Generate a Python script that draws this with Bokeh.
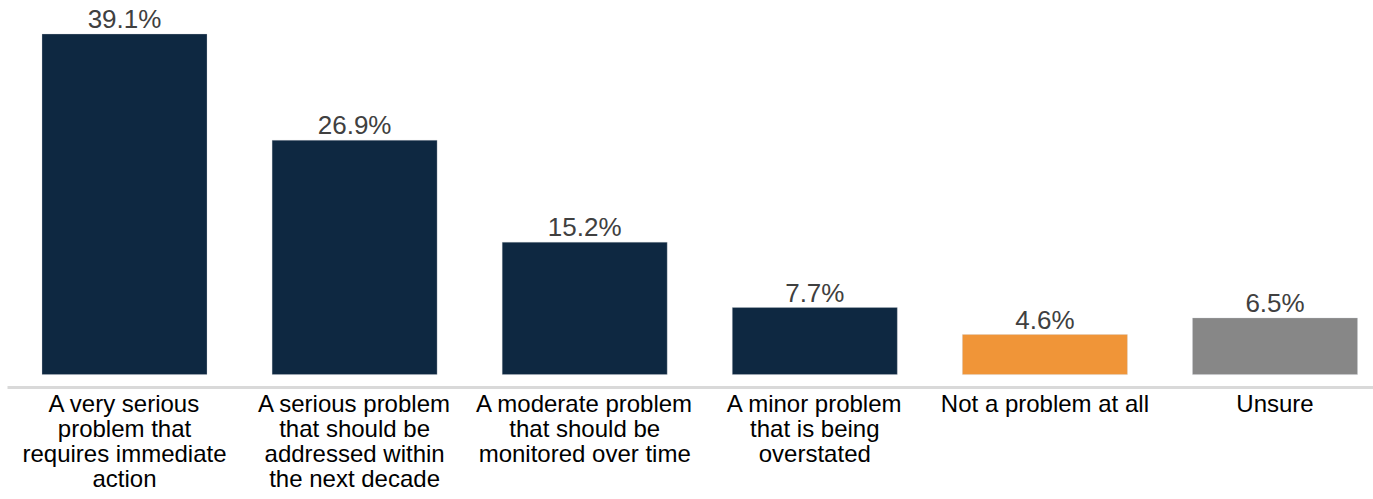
from bokeh.plotting import figure
from bokeh.models import Range1d, FixedTicker, ColumnDataSource
from bokeh.core.properties import value
from bokeh.embed import file_html
from bokeh.resources import INLINE

categories = [
    "A very serious\nproblem that\nrequires immediate\naction",
    "A serious problem\nthat should be\naddressed within\nthe next decade",
    "A moderate problem\nthat should be\nmonitored over time",
    "A minor problem\nthat is being\noverstated",
    "Not a problem at all",
    "Unsure",
]
values = [39.1, 26.9, 15.2, 7.7, 4.6, 6.5]
labels = ["39.1%", "26.9%", "15.2%", "7.7%", "4.6%", "6.5%"]
colors = ["#0E2841", "#0E2841", "#0E2841", "#0E2841", "#F09538", "#878787"]

x = list(range(len(categories)))
src = ColumnDataSource(dict(x=x, top=values, label=labels, color=colors))

p = figure(width=1373, height=499,
           x_range=Range1d(-0.5085, 5.428), y_range=Range1d(-1.48, 42.95),
           output_backend="svg", toolbar_location=None,
           y_axis_location=None, min_border=0, min_border_left=7)
p.outline_line_color = None
p.xgrid.visible = False
p.ygrid.visible = False
p.background_fill_color = "white"
p.border_fill_color = "white"

p.vbar(x="x", top="top", bottom=0, width=0.717, source=src,
       fill_color="color", line_color="#C8CDD3", line_width=0.6, line_alpha=0.5)

p.text(x="x", y="top", text="label", source=src,
       text_font=value("Liberation Sans"), text_font_size="26px",
       text_color="#404040", text_align="center", text_baseline="alphabetic",
       y_offset=-15)

ax = p.xaxis[0]
ax.ticker = FixedTicker(ticks=x)
ax.major_label_overrides = {i: c for i, c in enumerate(categories)}
ax.major_label_text_font = "Liberation Sans"
ax.major_label_text_font_size = "24px"
ax.major_label_text_color = "#000000"
ax.major_label_text_line_height = 0.936
ax.major_label_standoff = 2
ax.major_tick_line_color = None
ax.minor_tick_line_color = None
ax.major_tick_out = 0
ax.major_tick_in = 0
ax.axis_line_color = "#D9D9D9"
ax.axis_line_width = 3
ax.axis_label = "\u00a0"
ax.axis_label_text_font_size = "1px"
ax.axis_label_standoff = 0

open("out.html", "w").write(file_html(p, INLINE))
